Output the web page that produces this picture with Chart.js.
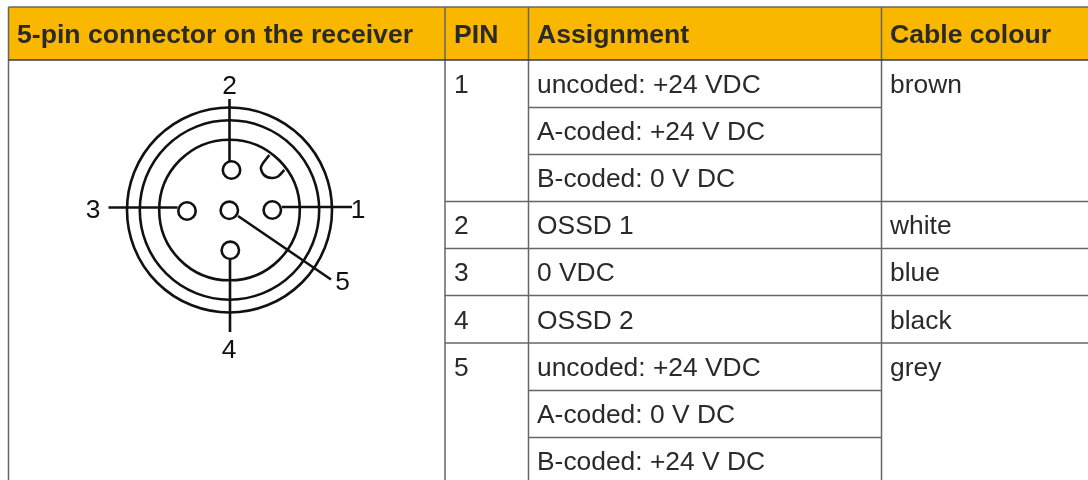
<!DOCTYPE html>
<html>
<head>
<meta charset="utf-8">
<title>5-pin connector</title>
<script src="https://cdn.jsdelivr.net/npm/chart.js@4"></script>
<style>
  html, body { margin: 0; padding: 0; background: #fff; }
  canvas { display: block; }
</style>
</head>
<body>
<canvas id="chart" width="1088" height="480"></canvas>
<script>
// table text
const headers = ['5-pin connector on the receiver', 'PIN', 'Assignment', 'Cable colour']
const pins = ['1', '', '', '2', '3', '4', '5', '', '']
const assignments = [
  'uncoded: +24 VDC', 'A-coded: +24 V DC', 'B-coded: 0 V DC',
  'OSSD 1', '0 VDC', 'OSSD 2',
  'uncoded: +24 VDC', 'A-coded: 0 V DC', 'B-coded: +24 V DC'
]
const cableColours = ['brown', '', '', 'white', 'blue', 'black', 'grey', '', '']

// table grid, in axis units (the axes run 0..1088 and 0..480)
const columnEdges = [8.5, 445, 528.5, 881.5, 1088]
const rowEdges = [60, 107.5, 154.5, 201.5, 248.5, 295.5, 343, 390.5, 437.5, 484]
const tableTop = 7
const subRowEdges = [1, 2, 7, 8]   // only across the Assignment column
const fullRowEdges = [3, 4, 5, 6]  // PIN through to the right side

// connector drawing, in the same axis units
const ringRadii = [102.5, 89.7, 70.3]
const ringCentre = [229.5, 210]
const pinSockets = [[272.3, 210], [231.5, 170], [187, 211], [230.3, 250.3], [229.3, 210.3]]
const leaderLines = [
  [[229.5, 99], [229.5, 161]],
  [[108.5, 207.5], [177.5, 207.5]],
  [[282, 207], [352, 207]],
  [[230, 260], [230, 332]],
  [[238, 216], [331, 279.5]]
]
const keyNotch = [[269.3, 155], [261, 167], [264, 175], [271.5, 178], [278, 176.5], [284.3, 170]]
const pinNumbers = ['1', '2', '3', '4', '5']
const pinNumberSpots = [[358, 211], [229.5, 87], [93, 210.5], [229, 351], [342.5, 283]]

const grey = '#666666'
const ink = '#111111'
const textColour = '#2b2a29'

const toXY = p => ({ x: p[0], y: p[1] })

function segment(a, b, colour, width) {
  return {
    type: 'scatter',
    showLine: true,
    data: [toXY(a), toXY(b)],
    borderColor: colour,
    borderWidth: width,
    pointRadius: 0,
    order: 2
  }
}

const datasets = []

// header band
datasets.push({
  type: 'scatter',
  showLine: true,
  data: [[columnEdges[0], tableTop], [1088, tableTop], [1088, rowEdges[0]], [columnEdges[0], rowEdges[0]], [columnEdges[0], tableTop]].map(toXY),
  borderWidth: 0,
  borderColor: 'rgba(0,0,0,0)',
  backgroundColor: '#fab700',
  fill: 'shape',
  pointRadius: 0,
  order: 5
})

// table rules
datasets.push(segment([columnEdges[0], tableTop], [1088, tableTop], grey, 1.5))
datasets.push(segment([columnEdges[0], rowEdges[0]], [1088, rowEdges[0]], '#3a3a3a', 1.5))
columnEdges.slice(0, 4).forEach(x => {
  datasets.push(segment([x, tableTop], [x, 480], grey, 1.5))
})
subRowEdges.forEach(i => {
  datasets.push(segment([columnEdges[2], rowEdges[i]], [columnEdges[3], rowEdges[i]], grey, 1.5))
})
fullRowEdges.forEach(i => {
  datasets.push(segment([columnEdges[1], rowEdges[i]], [1088, rowEdges[i]], grey, 1.5))
})

// connector rings and sockets
datasets.push({
  type: 'scatter',
  data: ringRadii.map(() => toXY(ringCentre)),
  pointRadius: ringRadii,
  pointStyle: 'circle',
  pointBorderColor: ink,
  pointBorderWidth: 2.6,
  pointBackgroundColor: 'rgba(0,0,0,0)',
  order: 1
})
datasets.push({
  type: 'scatter',
  data: pinSockets.map(toXY),
  pointRadius: 8.7,
  pointStyle: 'circle',
  pointBorderColor: ink,
  pointBorderWidth: 2.6,
  pointBackgroundColor: '#fff',
  order: 0
})
leaderLines.forEach(l => datasets.push(segment(l[0], l[1], ink, 2.6)))
datasets.push({
  type: 'scatter',
  showLine: true,
  data: keyNotch.map(toXY),
  borderColor: ink,
  borderWidth: 2.6,
  tension: 0.3,
  pointRadius: 0,
  order: 1
})

// cell text and pin numbers go through the same scales as the marks
const tableText = {
  id: 'tableText',
  afterDatasetsDraw(chart) {
    const { ctx, scales: { x, y } } = chart
    const put = (text, px, py, font, colour, align) => {
      ctx.font = font
      ctx.fillStyle = colour
      ctx.textAlign = align
      ctx.textBaseline = 'middle'
      ctx.fillText(text, x.getPixelForValue(px), y.getPixelForValue(py))
    }
    ctx.save()
    const bold = 'bold 26.6px "Liberation Sans"'
    const body = '26.4px "Liberation Sans"'
    const headY = (tableTop + rowEdges[0]) / 2 + 2
    const headX = [17, 454, 537, 890]
    headers.forEach((h, i) => put(h, headX[i], headY, bold, textColour, 'left'))
    assignments.forEach((a, i) => {
      const cy = (rowEdges[i] + rowEdges[i + 1]) / 2 + 2
      put(pins[i], 454, cy, body, textColour, 'left')
      put(a, 537, cy, body, textColour, 'left')
      put(cableColours[i], 890, cy, body, textColour, 'left')
    })
    pinNumbers.forEach((n, i) => {
      put(n, pinNumberSpots[i][0], pinNumberSpots[i][1], body, ink, 'center')
    })
    ctx.restore()
  }
}

new Chart(document.getElementById('chart').getContext('2d'), {
  type: 'scatter',
  data: { datasets },
  plugins: [tableText],
  options: {
    responsive: false,
    animation: false,
    events: [],
    layout: { padding: 0, autoPadding: false },
    plugins: {
      legend: { display: false },
      tooltip: { enabled: false }
    },
    scales: {
      x: { type: 'linear', min: 0, max: 1088, display: false },
      y: { type: 'linear', min: 0, max: 480, reverse: true, display: false }
    }
  }
})
</script>
</body>
</html>
